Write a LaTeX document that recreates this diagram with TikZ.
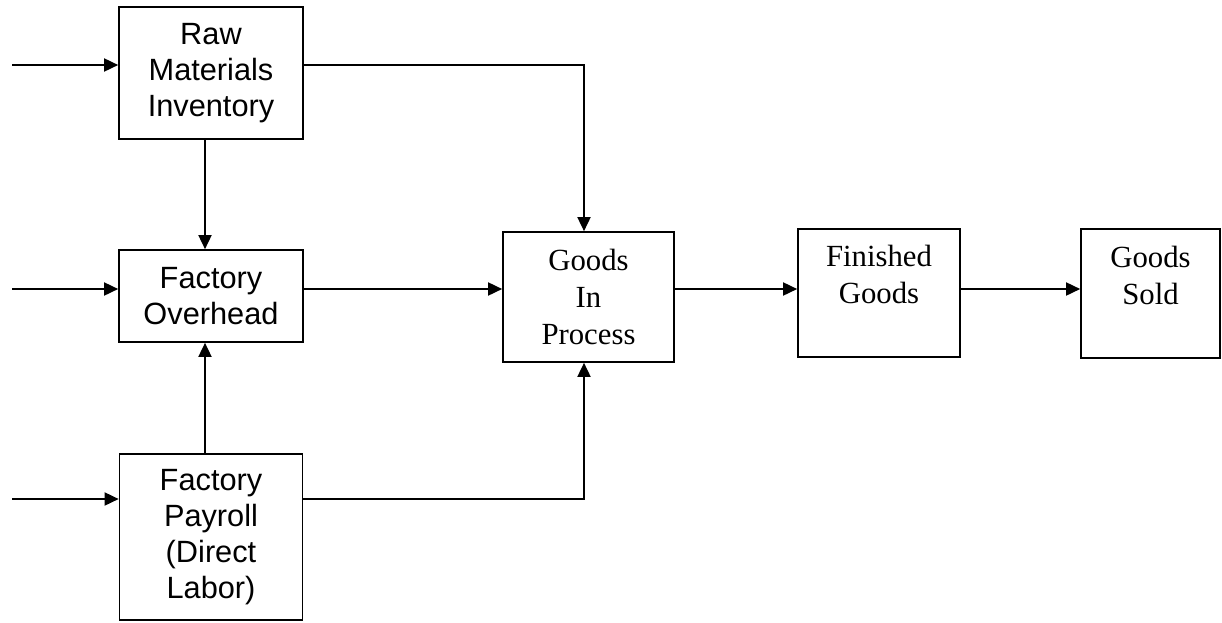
\documentclass[tikz,border=0pt]{standalone}
\usepackage{fontspec}
\setmainfont{Liberation Serif}
\setsansfont{Liberation Sans}
\usetikzlibrary{arrows.meta,positioning}

\begin{document}
\begin{tikzpicture}[
    x=0.02cm, y=-0.02cm,
    account/.style={rectangle, draw=black, line width=1pt, align=center, inner sep=0pt},
    sansacct/.style={account, font=\sffamily\fontsize{17.5}{20.5}\selectfont},
    serifacct/.style={account, font=\rmfamily\fontsize{17.5}{21}\selectfont},
    arrow/.style={-{Triangle[length=8pt,width=7.5pt]}, line width=0.8pt}
]
\useasboundingbox (0,0) rectangle (1222,622);

% accounts
\node[sansacct, minimum width=3.68cm, minimum height=2.64cm] (raw) at (211,73) {Raw\\Materials\\Inventory};
\node[sansacct, minimum width=3.68cm, minimum height=1.84cm] (ovh) at (211,296) {Factory\\Overhead};
\node[sansacct, minimum width=3.66cm, minimum height=3.32cm] (pay) at (211,537) {Factory\\Payroll\\(Direct\\Labor)};
\node[serifacct, minimum width=3.42cm, minimum height=2.6cm] (gip) at (588.5,297) {Goods\\In\\Process};
\node[serifacct, minimum width=3.24cm, minimum height=2.56cm] (fin) at (879,293) {Finished\\Goods\\\mbox{}};
\node[serifacct, minimum width=2.78cm, minimum height=2.58cm] (sold) at (1150.5,293.5) {Goods\\Sold\\\mbox{}};

% free ends and columns
\coordinate (inraw) at (12,65);
\coordinate (inovh) at (12,289);
\coordinate (inpay) at (12,499);
\coordinate (leftcol) at (205,0);
\coordinate (gipcol) at (584,0);

% flows
\draw[arrow] (inraw) -- (inraw -| raw.west);
\draw[arrow] (inovh) -- (inovh -| ovh.west);
\draw[arrow] (inpay) -- (inpay -| pay.west);
\draw[arrow] (leftcol |- raw.south) -- (leftcol |- ovh.north);
\draw[arrow] (leftcol |- pay.north) -- (leftcol |- ovh.south);
\draw[arrow] (inraw -| raw.east) -| (gipcol |- gip.north);
\draw[arrow] (inovh -| ovh.east) -- (inovh -| gip.west);
\draw[arrow] (inpay -| pay.east) -| (gipcol |- gip.south);
\draw[arrow] (inovh -| gip.east) -- (inovh -| fin.west);
\draw[arrow] (inovh -| fin.east) -- (inovh -| sold.west);

\end{tikzpicture}
\end{document}
